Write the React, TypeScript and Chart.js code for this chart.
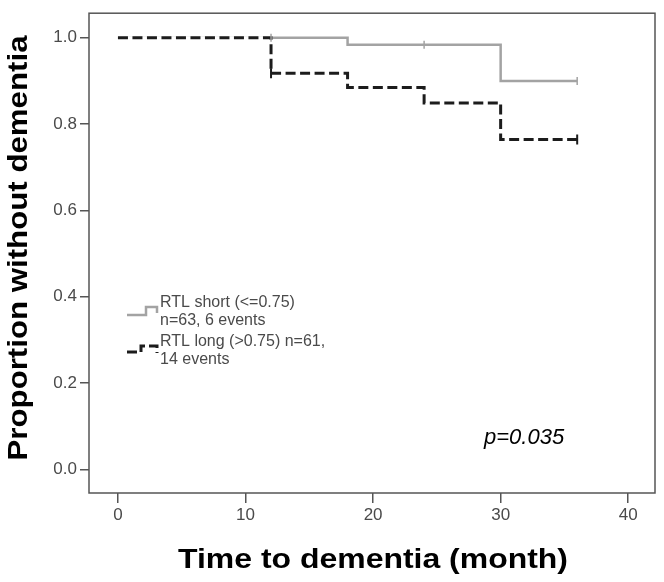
import React, { useEffect, useRef } from "react";
import { Chart, registerables } from "chart.js";
Chart.register(...registerables);

const FONT = '"Liberation Sans", Arial, sans-serif';

// Kaplan-Meier step data
const shortTimes = [0, 18, 30, 36];
const shortSurv = [1.0, 0.984, 0.9, 0.9];
const shortCensorTimes = [12, 24, 36];
const shortCensorSurv = [1.0, 0.984, 0.9];

const longTimes = [0, 12, 18, 24, 30, 36];
const longSurv = [1.0, 0.918, 0.885, 0.849, 0.764, 0.764];
const longCensorTimes = [12, 36];
const longCensorSurv = [0.918, 0.764];

const xTicks = [0, 10, 20, 30, 40];
const yTicks = [0, 0.2, 0.4, 0.6, 0.8, 1.0];
const legendLabels = [
  ["RTL short (<=0.75)", "n=63, 6 events"],
  ["RTL long (>0.75) n=61,", "14 events"],
];
const pValueText = "p=0.035";
const xTitle = "Time to dementia (month)";
const yTitle = "Proportion without dementia";

const GREY = "#a3a3a3";
const BLACK = "#1c1c1c";
const TEXT = "#4a4a4a";

function pts(xs: number[], ys: number[]) {
  return xs.map((x, i) => ({ x, y: ys[i] }));
}

function drawStretched(ctx: CanvasRenderingContext2D, text: string, cx: number, cy: number, targetW: number, font: string, rot = 0) {
  ctx.save();
  ctx.font = font;
  const w = ctx.measureText(text).width;
  ctx.translate(cx, cy);
  if (rot) ctx.rotate(rot);
  ctx.scale(targetW / w, 1);
  ctx.textAlign = "center";
  ctx.textBaseline = "middle";
  ctx.fillStyle = "#000";
  ctx.fillText(text, 0, 0);
  ctx.restore();
}

const overlayPlugin = {
  id: "overlay",
  afterDraw(chart: any) {
    const ctx: CanvasRenderingContext2D = chart.ctx;
    const a = chart.chartArea;
    ctx.save();
    // frame
    ctx.strokeStyle = "#555";
    ctx.lineWidth = 1.5;
    ctx.strokeRect(a.left, a.top, a.right - a.left, a.bottom - a.top);

    // legend symbols
    ctx.lineWidth = 2.5;
    ctx.strokeStyle = GREY;
    ctx.beginPath();
    ctx.moveTo(127, 315);
    ctx.lineTo(146, 315);
    ctx.lineTo(146, 307);
    ctx.lineTo(157, 307);
    ctx.lineTo(157, 313);
    ctx.stroke();

    ctx.strokeStyle = BLACK;
    ctx.lineWidth = 3;
    ctx.setLineDash([10, 4]);
    ctx.beginPath();
    ctx.moveTo(127, 352);
    ctx.lineTo(141, 352);
    ctx.lineTo(141, 346);
    ctx.lineTo(157, 346);
    ctx.lineTo(157, 353);
    ctx.stroke();
    ctx.setLineDash([]);

    // legend texts
    ctx.fillStyle = TEXT;
    ctx.font = `16px ${FONT}`;
    ctx.textAlign = "left";
    ctx.textBaseline = "middle";
    ctx.fillText(legendLabels[0][0], 160, 303);
    ctx.fillText(legendLabels[0][1], 160, 321);
    ctx.fillText(legendLabels[1][0], 160, 342);
    ctx.fillText(legendLabels[1][1], 160, 360);

    // p value
    ctx.fillStyle = "#000";
    ctx.font = `italic 22px ${FONT}`;
    ctx.fillText(pValueText, 484, 438);

    // axis titles
    drawStretched(ctx, xTitle, 373, 561, 390, `bold 27px ${FONT}`);
    drawStretched(ctx, yTitle, 20, 248, 425, `bold 27px ${FONT}`, -Math.PI / 2);
    ctx.restore();
  },
};

export default function App() {
  const ref = useRef<HTMLCanvasElement>(null);
  useEffect(() => {
    document.body.style.margin = "0";
    const canvas = ref.current!;
    const chart = new Chart(canvas, {
      type: "scatter",
      data: {
        datasets: [
          {
            data: pts(shortCensorTimes, shortCensorSurv),
            showLine: false,
            pointStyle: "line",
            rotation: 90,
            radius: 4,
            borderColor: GREY,
            borderWidth: 1.5,
            order: -1,
          } as any,
          {
            data: pts(longCensorTimes, longCensorSurv),
            showLine: false,
            pointStyle: "line",
            rotation: 90,
            radius: 5,
            borderColor: BLACK,
            borderWidth: 2,
            order: -2,
          } as any,
          {
            data: pts(longTimes, longSurv),
            showLine: true,
            stepped: "before",
            borderColor: BLACK,
            borderWidth: 3,
            borderDash: [10, 4.5],
            pointRadius: 0,
            fill: false,
            order: 0,
          } as any,
          {
            data: pts(longTimes, longSurv),
            showLine: true,
            stepped: "before",
            borderColor: "#ffffff",
            borderWidth: 3,
            pointRadius: 0,
            fill: false,
            order: 1,
          } as any,
          {
            data: pts(shortTimes, shortSurv),
            showLine: true,
            stepped: "before",
            borderColor: GREY,
            borderWidth: 2.5,
            pointRadius: 0,
            fill: false,
            order: 2,
          } as any,
        ],
      },
      options: {
        animation: false,
        responsive: false,
        layout: { padding: { top: 6, right: 9, left: 0, bottom: 0 } },
        plugins: { legend: { display: false }, tooltip: { enabled: false } },
        scales: {
          x: {
            type: "linear",
            min: -2.27,
            max: 42.1,
            afterBuildTicks: (s: any) => {
              s.ticks = xTicks.map((v) => ({ value: v }));
            },
            afterFit: (s: any) => {
              s.height = 89;
            },
            grid: { display: true, drawOnChartArea: false, drawTicks: true, tickLength: 10, color: "#555", lineWidth: 1.5 },
            border: { display: false },
            ticks: {
              color: TEXT,
              font: { family: FONT, size: 17 },
              padding: 2,
              callback: (v: any) => String(v),
            },
          },
          y: {
            type: "linear",
            min: -0.055,
            max: 1.057,
            afterBuildTicks: (s: any) => {
              s.ticks = yTicks.map((v) => ({ value: v }));
            },
            afterFit: (s: any) => {
              s.width = 89;
            },
            grid: { display: true, drawOnChartArea: false, drawTicks: true, tickLength: 9, color: "#555", lineWidth: 1.5 },
            border: { display: false },
            ticks: {
              color: TEXT,
              font: { family: FONT, size: 17 },
              padding: 3,
              callback: (v: any) => Number(v).toFixed(1),
            },
          },
        },
      } as any,
      plugins: [overlayPlugin],
    });
    return () => chart.destroy();
  }, []);
  return (
    <div style={{ width: 664, height: 582 }}>
      <canvas ref={ref} width={664} height={582} style={{ display: "block" }} />
    </div>
  );
}
